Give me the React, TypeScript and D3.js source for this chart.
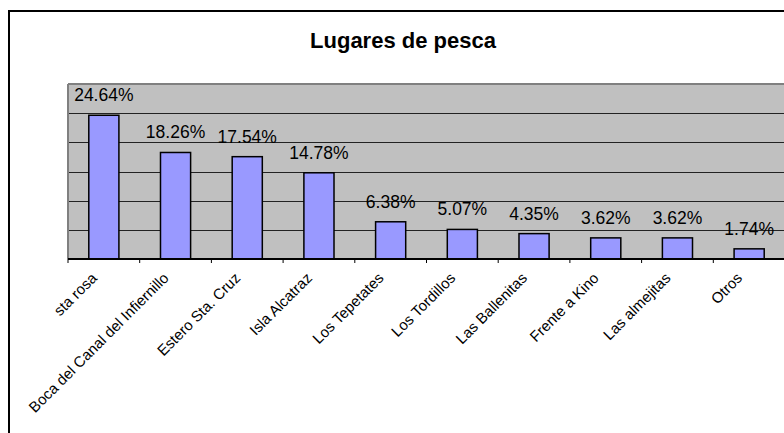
import React from 'react';
import * as d3 from 'd3';

// data
const places = [
  'sta rosa',
  'Boca del Canal del Infiernillo',
  'Estero Sta. Cruz',
  'Isla Alcatraz',
  'Los Tepetates',
  'Los Tordillos',
  'Las Ballenitas',
  'Frente a Kino',
  'Las almejitas',
  'Otros'
];
const shares = [24.64, 18.26, 17.54, 14.78, 6.38, 5.07, 4.35, 3.62, 3.62, 1.74];
const gridTicks = [5, 10, 15, 20, 25];

const W = 784, H = 433;
const plot = { left: 68, right: 785, top: 84, bottom: 259 };
const font = 'Arial, "Liberation Sans", sans-serif';

export default function App() {
  const x = d3.scaleBand<string>()
    .domain(places)
    .range([plot.left, plot.right])
    .paddingInner(0.58)
    .paddingOuter(0.29);
  const xOuter = d3.scaleBand<string>().domain(places).range([plot.left, plot.right]);
  const y = d3.scaleLinear().domain([0, 30]).range([plot.bottom, plot.top]);

  return (
    <svg width={W} height={H} style={{ position: 'absolute', left: 0, top: 0 }}>
      <rect x={0} y={0} width={W} height={H} fill="#fff" />
      {/* chart frame */}
      <rect x={9} y={11} width={800} height={450} fill="none" stroke="#000" strokeWidth={2} />
      <text x={403} y={48} textAnchor="middle" fontFamily={font} fontWeight="bold" fontSize={22}>
        Lugares de pesca
      </text>

      {/* plot area */}
      <rect x={plot.left} y={plot.top} width={plot.right - plot.left} height={plot.bottom - plot.top} fill="#C0C0C0" />
      {gridTicks.map(t => (
        <line key={t} x1={plot.left} x2={plot.right} y1={Math.round(y(t)) + 0.5} y2={Math.round(y(t)) + 0.5}
          stroke="#222" strokeWidth={1} />
      ))}
      <line x1={plot.left} x2={plot.right} y1={plot.top} y2={plot.top} stroke="#808080" strokeWidth={2} />
      <line x1={plot.left} x2={plot.left} y1={plot.top} y2={plot.bottom} stroke="#808080" strokeWidth={2} />

      {/* bars */}
      {places.map((p, i) => (
        <rect key={p} x={x(p)} y={y(shares[i])} width={x.bandwidth()} height={plot.bottom - y(shares[i])}
          fill="#9999FF" stroke="#000" strokeWidth={1.5} />
      ))}

      {/* value labels */}
      {places.map((p, i) => (
        <text key={p} x={(xOuter(p) ?? 0) + xOuter.bandwidth() / 2} y={y(shares[i]) - 14}
          textAnchor="middle" fontFamily={font} fontSize={17.5} fill="#000">
          {shares[i].toFixed(2)}%
        </text>
      ))}

      {/* category axis */}
      <line x1={plot.left} x2={plot.right} y1={plot.bottom} y2={plot.bottom} stroke="#000" strokeWidth={2} />
      {places.map(p => (
        <line key={p} x1={xOuter(p)} x2={xOuter(p)} y1={plot.bottom} y2={plot.bottom + 4} stroke="#000" strokeWidth={1} />
      ))}
      {places.map(p => {
        const cx = (xOuter(p) ?? 0) + xOuter.bandwidth() / 2 - 6;
        return (
          <text key={p} transform={`translate(${cx},${plot.bottom + 20}) rotate(-45)`}
            textAnchor="end" fontFamily={font} fontSize={15} fill="#000">
            {p}
          </text>
        );
      })}
    </svg>
  );
}
